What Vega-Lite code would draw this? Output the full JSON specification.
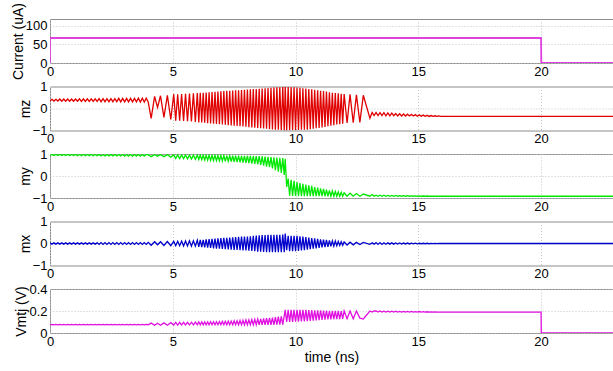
{
"$schema": "https://vega.github.io/schema/vega-lite/v6.json",
"padding": {"left": 10, "top": 1, "right": 0, "bottom": 5},
"bounds": "flush",
"spacing": 23.5,
"config": {
 "font": "Liberation Sans",
 "view": {"stroke": "#8c8c8c", "strokeWidth": 1},
 "axis": {"labelFont": "Liberation Sans", "labelFontSize": 13, "labelColor": "#000", "titleFont": "Liberation Sans", "titleFontSize": 14, "titleFontWeight": "normal", "titleColor": "#000", "grid": true, "gridColor": "#c4c4c4", "gridDash": [1, 2], "gridWidth": 1, "ticks": false, "domain": false, "labelPadding": 3, "titlePadding": 0, "labelFlush": false, "labelOverlap": false, "format": "~r"},
 "axisX": {"labelPadding": 2}
},
"datasets": {
 "cur": [
  {"t": 0, "c": 0}, {"t": 0.001, "c": 67}, {"t": 20, "c": 67}, {"t": 20.01, "c": 0}, {"t": 23.2, "c": 0}
 ],
 "sim": [
  {"t":0,"z":0.34,"y":0.93,"x":0.03,"v":0.074},
  {"t":0.08,"z":0.42,"y":0.98,"x":-0.03,"v":0.078},
  {"t":0.16,"z":0.34,"y":0.93,"x":0.03,"v":0.074},
  {"t":0.24,"z":0.42,"y":0.98,"x":-0.03,"v":0.078},
  {"t":0.32,"z":0.34,"y":0.93,"x":0.03,"v":0.074},
  {"t":0.40,"z":0.43,"y":0.98,"x":-0.03,"v":0.078},
  {"t":0.48,"z":0.33,"y":0.93,"x":0.03,"v":0.074},
  {"t":0.56,"z":0.43,"y":0.98,"x":-0.03,"v":0.078},
  {"t":0.64,"z":0.33,"y":0.93,"x":0.03,"v":0.074},
  {"t":0.72,"z":0.43,"y":0.98,"x":-0.03,"v":0.078},
  {"t":0.80,"z":0.33,"y":0.93,"x":0.03,"v":0.074},
  {"t":0.88,"z":0.43,"y":0.98,"x":-0.03,"v":0.078},
  {"t":0.96,"z":0.33,"y":0.93,"x":0.03,"v":0.074},
  {"t":1.04,"z":0.43,"y":0.98,"x":-0.03,"v":0.078},
  {"t":1.12,"z":0.33,"y":0.92,"x":0.03,"v":0.074},
  {"t":1.20,"z":0.44,"y":0.98,"x":-0.03,"v":0.078},
  {"t":1.28,"z":0.32,"y":0.92,"x":0.03,"v":0.074},
  {"t":1.36,"z":0.44,"y":0.98,"x":-0.03,"v":0.078},
  {"t":1.44,"z":0.32,"y":0.92,"x":0.03,"v":0.074},
  {"t":1.52,"z":0.44,"y":0.98,"x":-0.03,"v":0.078},
  {"t":1.60,"z":0.32,"y":0.92,"x":0.03,"v":0.074},
  {"t":1.68,"z":0.44,"y":0.98,"x":-0.03,"v":0.078},
  {"t":1.76,"z":0.32,"y":0.92,"x":0.03,"v":0.074},
  {"t":1.84,"z":0.44,"y":0.98,"x":-0.03,"v":0.078},
  {"t":1.92,"z":0.32,"y":0.92,"x":0.03,"v":0.074},
  {"t":2.00,"z":0.45,"y":0.98,"x":-0.04,"v":0.078},
  {"t":2.08,"z":0.31,"y":0.91,"x":0.04,"v":0.074},
  {"t":2.16,"z":0.45,"y":0.98,"x":-0.04,"v":0.078},
  {"t":2.24,"z":0.31,"y":0.91,"x":0.04,"v":0.074},
  {"t":2.32,"z":0.45,"y":0.98,"x":-0.04,"v":0.078},
  {"t":2.40,"z":0.31,"y":0.91,"x":0.04,"v":0.074},
  {"t":2.48,"z":0.45,"y":0.98,"x":-0.04,"v":0.078},
  {"t":2.56,"z":0.31,"y":0.91,"x":0.04,"v":0.074},
  {"t":2.64,"z":0.45,"y":0.98,"x":-0.04,"v":0.078},
  {"t":2.72,"z":0.31,"y":0.91,"x":0.04,"v":0.074},
  {"t":2.80,"z":0.46,"y":0.98,"x":-0.04,"v":0.078},
  {"t":2.88,"z":0.30,"y":0.91,"x":0.04,"v":0.074},
  {"t":2.96,"z":0.46,"y":0.98,"x":-0.04,"v":0.078},
  {"t":3.04,"z":0.30,"y":0.90,"x":0.04,"v":0.074},
  {"t":3.12,"z":0.46,"y":0.98,"x":-0.04,"v":0.078},
  {"t":3.20,"z":0.30,"y":0.90,"x":0.04,"v":0.074},
  {"t":3.28,"z":0.46,"y":0.98,"x":-0.04,"v":0.078},
  {"t":3.36,"z":0.30,"y":0.90,"x":0.04,"v":0.074},
  {"t":3.44,"z":0.46,"y":0.98,"x":-0.04,"v":0.078},
  {"t":3.52,"z":0.30,"y":0.90,"x":0.04,"v":0.074},
  {"t":3.60,"z":0.47,"y":0.98,"x":-0.04,"v":0.078},
  {"t":3.68,"z":0.29,"y":0.90,"x":0.04,"v":0.074},
  {"t":3.76,"z":0.47,"y":0.98,"x":-0.04,"v":0.078},
  {"t":3.84,"z":0.29,"y":0.90,"x":0.04,"v":0.074},
  {"t":3.92,"z":0.47,"y":0.98,"x":-0.04,"v":0.078},
  {"t":4.00,"z":0.30,"y":0.97,"x":0.05,"v":0.075},
  {"t":4.12,"z":-0.45,"y":0.88,"x":-0.08,"v":0.09},
  {"t":4.26,"z":0.55,"y":0.97,"x":0.08,"v":0.07},
  {"t":4.38,"z":0.05,"y":0.90,"x":-0.06,"v":0.088},
  {"t":4.50,"z":0.58,"y":0.97,"x":0.08,"v":0.07},
  {"t":4.64,"z":-0.40,"y":0.88,"x":-0.09,"v":0.092},
  {"t":4.78,"z":0.60,"y":0.97,"x":0.09,"v":0.07},
  {"t":4.92,"z":-0.50,"y":0.86,"x":-0.10,"v":0.094},
  {"t":5.04,"z":0.65,"y":0.96,"x":0.10,"v":0.072},
  {"t":5.12,"z":-0.55,"y":0.80,"x":-0.10,"v":0.096},
  {"t":5.20,"z":0.65,"y":0.96,"x":0.10,"v":0.072},
  {"t":5.28,"z":-0.56,"y":0.79,"x":-0.10,"v":0.096},
  {"t":5.36,"z":0.66,"y":0.96,"x":0.11,"v":0.073},
  {"t":5.44,"z":-0.57,"y":0.79,"x":-0.11,"v":0.097},
  {"t":5.52,"z":0.67,"y":0.96,"x":0.11,"v":0.073},
  {"t":5.60,"z":-0.58,"y":0.78,"x":-0.11,"v":0.097},
  {"t":5.68,"z":0.68,"y":0.95,"x":0.12,"v":0.074},
  {"t":5.76,"z":-0.59,"y":0.77,"x":-0.12,"v":0.098},
  {"t":5.84,"z":0.69,"y":0.95,"x":0.12,"v":0.074},
  {"t":5.92,"z":-0.61,"y":0.76,"x":-0.12,"v":0.099},
  {"t":6.00,"z":0.70,"y":0.95,"x":0.15,"v":0.075},
  {"t":6.06,"z":-0.63,"y":0.75,"x":-0.15,"v":0.100},
  {"t":6.12,"z":0.71,"y":0.95,"x":0.16,"v":0.075},
  {"t":6.18,"z":-0.64,"y":0.74,"x":-0.17,"v":0.100},
  {"t":6.24,"z":0.72,"y":0.95,"x":0.17,"v":0.075},
  {"t":6.30,"z":-0.65,"y":0.73,"x":-0.18,"v":0.101},
  {"t":6.36,"z":0.73,"y":0.94,"x":0.19,"v":0.075},
  {"t":6.42,"z":-0.67,"y":0.72,"x":-0.19,"v":0.101},
  {"t":6.48,"z":0.74,"y":0.94,"x":0.20,"v":0.075},
  {"t":6.54,"z":-0.68,"y":0.71,"x":-0.20,"v":0.102},
  {"t":6.60,"z":0.75,"y":0.94,"x":0.21,"v":0.075},
  {"t":6.66,"z":-0.69,"y":0.70,"x":-0.22,"v":0.102},
  {"t":6.72,"z":0.76,"y":0.94,"x":0.22,"v":0.075},
  {"t":6.78,"z":-0.70,"y":0.70,"x":-0.23,"v":0.103},
  {"t":6.84,"z":0.77,"y":0.93,"x":0.23,"v":0.075},
  {"t":6.90,"z":-0.72,"y":0.69,"x":-0.24,"v":0.104},
  {"t":6.96,"z":0.78,"y":0.93,"x":0.25,"v":0.075},
  {"t":7.02,"z":-0.73,"y":0.68,"x":-0.25,"v":0.105},
  {"t":7.08,"z":0.79,"y":0.93,"x":0.26,"v":0.075},
  {"t":7.14,"z":-0.74,"y":0.67,"x":-0.26,"v":0.106},
  {"t":7.20,"z":0.80,"y":0.93,"x":0.26,"v":0.075},
  {"t":7.26,"z":-0.76,"y":0.67,"x":-0.27,"v":0.107},
  {"t":7.32,"z":0.81,"y":0.92,"x":0.27,"v":0.075},
  {"t":7.38,"z":-0.77,"y":0.66,"x":-0.28,"v":0.108},
  {"t":7.44,"z":0.82,"y":0.92,"x":0.28,"v":0.075},
  {"t":7.50,"z":-0.78,"y":0.64,"x":-0.29,"v":0.110},
  {"t":7.56,"z":0.83,"y":0.92,"x":0.29,"v":0.075},
  {"t":7.62,"z":-0.79,"y":0.63,"x":-0.29,"v":0.111},
  {"t":7.68,"z":0.83,"y":0.92,"x":0.30,"v":0.075},
  {"t":7.74,"z":-0.81,"y":0.62,"x":-0.30,"v":0.114},
  {"t":7.80,"z":0.84,"y":0.91,"x":0.31,"v":0.075},
  {"t":7.86,"z":-0.82,"y":0.61,"x":-0.31,"v":0.116},
  {"t":7.92,"z":0.85,"y":0.91,"x":0.31,"v":0.075},
  {"t":7.98,"z":-0.83,"y":0.60,"x":-0.32,"v":0.118},
  {"t":8.04,"z":0.86,"y":0.91,"x":0.32,"v":0.075},
  {"t":8.10,"z":-0.85,"y":0.59,"x":-0.33,"v":0.119},
  {"t":8.16,"z":0.87,"y":0.91,"x":0.33,"v":0.075},
  {"t":8.22,"z":-0.86,"y":0.56,"x":-0.34,"v":0.121},
  {"t":8.28,"z":0.88,"y":0.90,"x":0.35,"v":0.075},
  {"t":8.34,"z":-0.87,"y":0.55,"x":-0.35,"v":0.124},
  {"t":8.40,"z":0.89,"y":0.90,"x":0.36,"v":0.075},
  {"t":8.46,"z":-0.88,"y":0.53,"x":-0.37,"v":0.126},
  {"t":8.52,"z":0.90,"y":0.90,"x":0.37,"v":0.075},
  {"t":8.58,"z":-0.90,"y":0.50,"x":-0.37,"v":0.129},
  {"t":8.64,"z":0.91,"y":0.89,"x":0.38,"v":0.075},
  {"t":8.70,"z":-0.91,"y":0.47,"x":-0.38,"v":0.132},
  {"t":8.76,"z":0.92,"y":0.88,"x":0.38,"v":0.075},
  {"t":8.82,"z":-0.92,"y":0.43,"x":-0.39,"v":0.134},
  {"t":8.88,"z":0.93,"y":0.87,"x":0.39,"v":0.075},
  {"t":8.94,"z":-0.94,"y":0.40,"x":-0.39,"v":0.137},
  {"t":9.00,"z":0.94,"y":0.86,"x":0.39,"v":0.075},
  {"t":9.06,"z":-0.95,"y":0.34,"x":-0.40,"v":0.140},
  {"t":9.12,"z":0.95,"y":0.85,"x":0.40,"v":0.075},
  {"t":9.18,"z":-0.96,"y":0.27,"x":-0.40,"v":0.144},
  {"t":9.24,"z":0.96,"y":0.84,"x":0.40,"v":0.075},
  {"t":9.30,"z":-0.97,"y":0.20,"x":-0.40,"v":0.150},
  {"t":9.36,"z":0.97,"y":0.83,"x":0.40,"v":0.076},
  {"t":9.42,"z":-0.99,"y":0.14,"x":-0.40,"v":0.152},
  {"t":9.48,"z":0.98,"y":0.81,"x":0.41,"v":0.076},
  {"t":9.54,"z":-1.00,"y":0.05,"x":-0.40,"v":0.155},
  {"t":9.58,"z":0.99,"y":0.78,"x":0.45,"v":0.210},
  {"t":9.64,"z":-1.00,"y":-0.50,"x":-0.30,"v":0.100},
  {"t":9.70,"z":0.98,"y":-0.12,"x":0.35,"v":0.210},
  {"t":9.76,"z":-1.00,"y":-0.90,"x":-0.35,"v":0.100},
  {"t":9.82,"z":0.97,"y":-0.17,"x":0.35,"v":0.210},
  {"t":9.88,"z":-0.99,"y":-0.91,"x":-0.35,"v":0.101},
  {"t":9.94,"z":0.96,"y":-0.22,"x":0.35,"v":0.210},
  {"t":10.00,"z":-0.99,"y":-0.91,"x":-0.35,"v":0.102},
  {"t":10.06,"z":0.95,"y":-0.28,"x":0.35,"v":0.210},
  {"t":10.12,"z":-0.98,"y":-0.92,"x":-0.34,"v":0.103},
  {"t":10.18,"z":0.94,"y":-0.32,"x":0.33,"v":0.210},
  {"t":10.24,"z":-0.97,"y":-0.92,"x":-0.32,"v":0.105},
  {"t":10.30,"z":0.92,"y":-0.36,"x":0.31,"v":0.210},
  {"t":10.36,"z":-0.97,"y":-0.92,"x":-0.30,"v":0.106},
  {"t":10.42,"z":0.91,"y":-0.39,"x":0.29,"v":0.210},
  {"t":10.48,"z":-0.96,"y":-0.92,"x":-0.28,"v":0.108},
  {"t":10.54,"z":0.89,"y":-0.42,"x":0.27,"v":0.209},
  {"t":10.60,"z":-0.94,"y":-0.92,"x":-0.26,"v":0.110},
  {"t":10.66,"z":0.87,"y":-0.45,"x":0.25,"v":0.208},
  {"t":10.72,"z":-0.92,"y":-0.92,"x":-0.24,"v":0.112},
  {"t":10.78,"z":0.85,"y":-0.50,"x":0.23,"v":0.207},
  {"t":10.84,"z":-0.90,"y":-0.92,"x":-0.22,"v":0.114},
  {"t":10.90,"z":0.83,"y":-0.53,"x":0.21,"v":0.206},
  {"t":10.96,"z":-0.88,"y":-0.92,"x":-0.20,"v":0.117},
  {"t":11.02,"z":0.81,"y":-0.56,"x":0.19,"v":0.205},
  {"t":11.08,"z":-0.86,"y":-0.92,"x":-0.18,"v":0.119},
  {"t":11.14,"z":0.79,"y":-0.59,"x":0.18,"v":0.204},
  {"t":11.20,"z":-0.84,"y":-0.92,"x":-0.17,"v":0.121},
  {"t":11.26,"z":0.77,"y":-0.62,"x":0.16,"v":0.203},
  {"t":11.32,"z":-0.81,"y":-0.92,"x":-0.15,"v":0.123},
  {"t":11.38,"z":0.74,"y":-0.65,"x":0.14,"v":0.202},
  {"t":11.44,"z":-0.78,"y":-0.92,"x":-0.13,"v":0.124},
  {"t":11.50,"z":0.72,"y":-0.68,"x":0.12,"v":0.202},
  {"t":11.56,"z":-0.76,"y":-0.92,"x":-0.12,"v":0.125},
  {"t":11.62,"z":0.70,"y":-0.70,"x":0.11,"v":0.201},
  {"t":11.68,"z":-0.73,"y":-0.92,"x":-0.10,"v":0.126},
  {"t":11.74,"z":0.69,"y":-0.72,"x":0.09,"v":0.201},
  {"t":11.80,"z":-0.71,"y":-0.92,"x":-0.09,"v":0.127},
  {"t":11.86,"z":0.67,"y":-0.74,"x":0.08,"v":0.200},
  {"t":11.92,"z":-0.69,"y":-0.92,"x":-0.08,"v":0.128},
  {"t":11.98,"z":0.66,"y":-0.76,"x":0.07,"v":0.200},
  {"t":12.10,"z":-0.66,"y":-0.92,"x":-0.07,"v":0.130},
  {"t":12.22,"z":0.64,"y":-0.78,"x":0.06,"v":0.200},
  {"t":12.35,"z":-0.65,"y":-0.92,"x":-0.06,"v":0.130},
  {"t":12.48,"z":0.62,"y":-0.80,"x":0.05,"v":0.200},
  {"t":12.62,"z":-0.63,"y":-0.92,"x":-0.05,"v":0.135},
  {"t":12.76,"z":0.60,"y":-0.82,"x":0.05,"v":0.127},
  {"t":13.03,"z":-0.44,"y":-0.92,"x":-0.04,"v":0.200},
  {"t":13.12,"z":-0.18,"y":-0.84,"x":0.03,"v":0.190},
  {"t":13.20,"z":-0.32,"y":-0.92,"x":-0.03,"v":0.200},
  {"t":13.28,"z":-0.18,"y":-0.87,"x":0.04,"v":0.200},
  {"t":13.36,"z":-0.32,"y":-0.92,"x":-0.04,"v":0.190},
  {"t":13.44,"z":-0.19,"y":-0.87,"x":0.04,"v":0.200},
  {"t":13.52,"z":-0.32,"y":-0.92,"x":-0.04,"v":0.190},
  {"t":13.60,"z":-0.19,"y":-0.875,"x":0.035,"v":0.199},
  {"t":13.68,"z":-0.33,"y":-0.92,"x":-0.035,"v":0.190},
  {"t":13.76,"z":-0.20,"y":-0.88,"x":0.03,"v":0.199},
  {"t":13.84,"z":-0.33,"y":-0.92,"x":-0.03,"v":0.190},
  {"t":13.92,"z":-0.21,"y":-0.88,"x":0.03,"v":0.198},
  {"t":14.00,"z":-0.33,"y":-0.92,"x":-0.03,"v":0.190},
  {"t":14.08,"z":-0.23,"y":-0.885,"x":0.025,"v":0.198},
  {"t":14.16,"z":-0.34,"y":-0.92,"x":-0.025,"v":0.190},
  {"t":14.24,"z":-0.24,"y":-0.89,"x":0.025,"v":0.197},
  {"t":14.32,"z":-0.34,"y":-0.92,"x":-0.025,"v":0.190},
  {"t":14.40,"z":-0.25,"y":-0.89,"x":0.02,"v":0.197},
  {"t":14.48,"z":-0.34,"y":-0.92,"x":-0.02,"v":0.190},
  {"t":14.56,"z":-0.26,"y":-0.895,"x":0.02,"v":0.196},
  {"t":14.64,"z":-0.34,"y":-0.92,"x":-0.02,"v":0.190},
  {"t":14.72,"z":-0.27,"y":-0.90,"x":0.015,"v":0.196},
  {"t":14.80,"z":-0.34,"y":-0.92,"x":-0.015,"v":0.190},
  {"t":14.88,"z":-0.28,"y":-0.90,"x":0.015,"v":0.195},
  {"t":14.96,"z":-0.35,"y":-0.92,"x":-0.015,"v":0.190},
  {"t":15.04,"z":-0.29,"y":-0.905,"x":0.01,"v":0.195},
  {"t":15.12,"z":-0.35,"y":-0.92,"x":-0.01,"v":0.190},
  {"t":15.20,"z":-0.30,"y":-0.91,"x":0.01,"v":0.194},
  {"t":15.28,"z":-0.35,"y":-0.92,"x":-0.01,"v":0.190},
  {"t":15.36,"z":-0.31,"y":-0.91,"x":0.01,"v":0.193},
  {"t":15.44,"z":-0.36,"y":-0.92,"x":-0.01,"v":0.190},
  {"t":15.52,"z":-0.32,"y":-0.915,"x":0.005,"v":0.192},
  {"t":15.60,"z":-0.36,"y":-0.92,"x":-0.005,"v":0.190},
  {"t":15.68,"z":-0.33,"y":-0.915,"x":0.005,"v":0.191},
  {"t":15.76,"z":-0.36,"y":-0.92,"x":-0.005,"v":0.190},
  {"t":15.84,"z":-0.34,"y":-0.92,"x":0,"v":0.190},
  {"t":15.92,"z":-0.36,"y":-0.92,"x":0,"v":0.190},
  {"t":16.5,"z":-0.36,"y":-0.92,"x":0,"v":0.190},
  {"t":18.0,"z":-0.36,"y":-0.92,"x":0,"v":0.190},
  {"t":20.0,"z":-0.36,"y":-0.92,"x":0,"v":0.190},
  {"t":20.01,"z":-0.36,"y":-0.92,"x":0,"v":0},
  {"t":23.2,"z":-0.36,"y":-0.92,"x":0,"v":0}
 ]
},
"vconcat": [
 {
  "width": 563, "height": 44,
  "data": {"name": "cur"},
  "mark": {"type": "line", "color": "#e040e0", "strokeWidth": 1.8, "clip": true},
  "encoding": {
   "x": {"field": "t", "type": "quantitative", "scale": {"domain": [0, 22.93], "nice": false, "zero": false}, "axis": {"values": [0, 5, 10, 15, 20], "title": null}},
   "y": {"field": "c", "type": "quantitative", "scale": {"domain": [0, 118], "nice": false}, "axis": {"values": [0, 50, 100], "title": "Current (uA)"}}
  }
 },
 {
  "width": 563, "height": 44,
  "data": {"name": "sim"},
  "mark": {"type": "line", "color": "#e00000", "strokeWidth": 1.3, "clip": true},
  "encoding": {
   "x": {"field": "t", "type": "quantitative", "scale": {"domain": [0, 22.93], "nice": false, "zero": false}, "axis": {"values": [0, 5, 10, 15, 20], "title": null}},
   "y": {"field": "z", "type": "quantitative", "scale": {"domain": [-1, 1], "nice": false}, "axis": {"values": [-1, 0, 1], "title": "mz"}}
  }
 },
 {
  "width": 563, "height": 44,
  "data": {"name": "sim"},
  "mark": {"type": "line", "color": "#00e800", "strokeWidth": 1.3, "clip": true},
  "encoding": {
   "x": {"field": "t", "type": "quantitative", "scale": {"domain": [0, 22.93], "nice": false, "zero": false}, "axis": {"values": [0, 5, 10, 15, 20], "title": null}},
   "y": {"field": "y", "type": "quantitative", "scale": {"domain": [-1, 1], "nice": false}, "axis": {"values": [-1, 0, 1], "title": "my"}}
  }
 },
 {
  "width": 563, "height": 44,
  "data": {"name": "sim"},
  "mark": {"type": "line", "color": "#0000cc", "strokeWidth": 1.3, "clip": true},
  "encoding": {
   "x": {"field": "t", "type": "quantitative", "scale": {"domain": [0, 22.93], "nice": false, "zero": false}, "axis": {"values": [0, 5, 10, 15, 20], "title": null}},
   "y": {"field": "x", "type": "quantitative", "scale": {"domain": [-1, 1], "nice": false}, "axis": {"values": [-1, 0, 1], "title": "mx"}}
  }
 },
 {
  "width": 563, "height": 44,
  "data": {"name": "sim"},
  "mark": {"type": "line", "color": "#e010e0", "strokeWidth": 1.3, "clip": true},
  "encoding": {
   "x": {"field": "t", "type": "quantitative", "scale": {"domain": [0, 22.93], "nice": false, "zero": false}, "axis": {"values": [0, 5, 10, 15, 20], "title": "time (ns)", "titlePadding": 2}},
   "y": {"field": "v", "type": "quantitative", "scale": {"domain": [0, 0.4], "nice": false}, "axis": {"values": [0, 0.2, 0.4], "title": "Vmtj (V)"}}
  }
 }
]
}
